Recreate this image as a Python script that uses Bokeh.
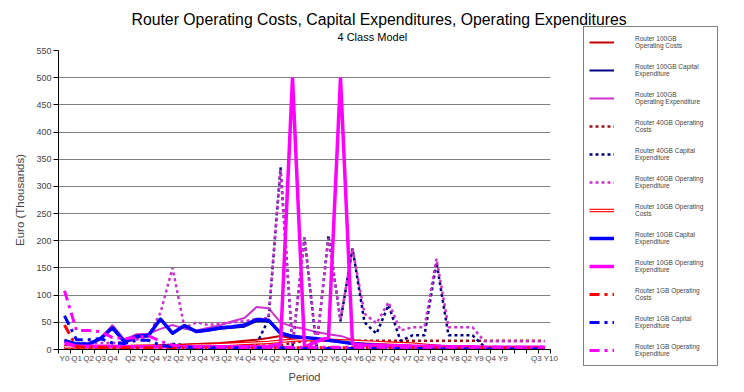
from bokeh.plotting import figure
from bokeh.models import Range1d, FixedTicker, Legend, LegendItem, Title
from bokeh.embed import file_html
from bokeh.resources import INLINE

# ---------------- data ----------------
periods = ["Y0", "Q1", "Q2", "Q3", "Q4", "", "Q2 Y2", "", "Q4 Y2", "", "Q2 Y3", "",
           "Q4 Y3", "", "Q2 Y4", "", "Q4 Y4", "", "Q2 Y5", "", "Q4 Y5", "", "Q2 Y6", "",
           "Q4 Y6", "", "Q2 Y7", "", "Q4 Y7", "", "Q2 Y8", "", "Q4 Y8", "", "Q2 Y9", "",
           "Q4 Y9", "", "", "", "Q3 Y10"]

y_ticks = [0, 50, 100, 150, 200, 250, 300, 350, 400, 450, 500, 550]

opcost_100 = [3, 4, 4, 5, 5, 6, 6, 7, 8, 8, 9, 10, 11, 12, 14, 16, 18, 21, 25, 20, 21,
              20, 18, 16, 14, 12, 11, 10, 9, 8, 7, 6, 5, 4, 3, 2, 1, 1, 0, 0, 0]
capex_100 = [18, 8, 8, 20, 42, 12, 22, 24, 58, 28, 45, 32, 35, 38, 40, 42, 52, 52, 32, 25, 22,
             20, 17, 14, 11, 9, 8, 7, 6, 5, 4, 3, 2, 2, 1, 1, 0, 0, 0, 0, 0]
opex_100 = [15, 8, 8, 20, 45, 18, 28, 29, 38, 45, 38, 35, 40, 45, 52, 58, 78, 76, 50, 42, 38,
            32, 28, 25, 18, 14, 12, 11, 10, 9, 8, 7, 6, 5, 5, 4, 4, 3, 3, 3, 3]
opcost_40 = [2, 2, 2, 3, 3, 3, 3, 4, 4, 4, 5, 5, 5, 6, 6, 6, 7, 7, 8, 12, 16,
             17, 17, 16, 16, 16, 16, 16, 16, 16, 16, 16, 16, 16, 16, 16, 16, 16, 16, 16, 16]
capex_40 = [6, 5, 5, 5, 5, 5, 5, 5, 6, 10, 8, 8, 8, 8, 8, 9, 10, 55, 335, 5, 206,
            3, 210, 52, 186, 50, 29, 82, 16, 26, 26, 160, 26, 26, 26, 5, 0, 0, 0, 0, 0]
opex_40 = [15, 12, 12, 12, 12, 14, 18, 25, 68, 150, 40, 50, 45, 48, 50, 52, 56, 58, 330, 10, 205,
           8, 205, 55, 186, 66, 48, 87, 35, 41, 41, 167, 41, 41, 41, 15, 15, 15, 15, 15, 15]
opcost_10 = [5, 5, 5, 5, 5, 5, 6, 6, 6, 7, 7, 8, 8, 9, 10, 11, 12, 13, 15, 17, 18,
             18, 17, 16, 15, 14, 13, 12, 11, 10, 8, 6, 4, 3, 2, 1, 1, 0, 0, 0, 0]
capex_10 = [16, 10, 10, 20, 40, 14, 24, 26, 56, 30, 44, 33, 36, 40, 42, 45, 55, 54, 30, 24, 22,
            20, 17, 14, 11, 9, 8, 7, 6, 5, 4, 3, 2, 2, 1, 1, 0, 0, 0, 0, 0]
opex_10 = [12, 6, 6, 6, 6, 5, 5, 5, 5, 5, 5, 5, 5, 5, 5, 5, 5, 5, 10, 500, 4,
           15, 22, 500, 10, 8, 8, 7, 7, 6, 6, 6, 5, 5, 5, 4, 4, 4, 4, 4, 4]
opcost_1 = [45, 5, 4, 4, 4, 3, 3, 3, 3, 3, 3, 3, 3, 3, 3, 3, 3, 3, 3, 3, 3,
            3, 3, 3, 3, 3, 3, 3, 3, 3, 3, 3, 3, 3, 3, 3, 3, 3, 3, 3, 3]
capex_1 = [62, 18, 18, 20, 12, 11, 17, 17, 8, 5, 4, 4, 3, 3, 3, 3, 3, 3, 3, 2, 2,
           2, 2, 2, 2, 2, 2, 2, 2, 2, 2, 1, 1, 1, 1, 1, 1, 1, 1, 1, 1]
opex_1 = [108, 35, 35, 33, 22, 20, 22, 25, 15, 8, 6, 5, 5, 4, 4, 4, 4, 4, 4, 4, 4,
          4, 4, 4, 4, 4, 4, 4, 4, 4, 4, 4, 4, 4, 4, 4, 4, 4, 4, 4, 4]

series_names = [
    "Router 100GB\nOperating Costs", "Router 100GB Capital\nExpenditure",
    "Router 100GB\nOperating Expenditure", "Router 40GB Operating\nCosts",
    "Router 40GB Capital\nExpenditure", "Router 40GB Operating\nExpenditure",
    "Router 10GB Operating\nCosts", "Router 10GB Capital\nExpenditure",
    "Router 10GB Operating\nExpenditure", "Router 1GB Operating\nCosts",
    "Router 1GB Capital\nExpenditure", "Router 1GB Operating\nExpenditure",
]

title_text = "Router Operating Costs, Capital Expenditures, Operating Expenditures"
subtitle_text = "4 Class Model"

x = list(range(len(periods)))
FONT = "Liberation Sans"

p = figure(frame_width=492, frame_height=299,
           min_border_left=58, min_border_right=170, min_border_top=50, min_border_bottom=40,
           x_range=Range1d(-0.5, len(periods) - 0.5), y_range=Range1d(0, 550),
           output_backend="svg", toolbar_location=None)
p.outline_line_color = None
p.background_fill_color = "white"
p.border_fill_color = "white"

# titles (subtitle first: it sits closest to the frame)
p.add_layout(Title(text=subtitle_text, align="left", offset=279, standoff=12,
                   vertical_align="top", text_font=FONT, text_font_size="11px",
                   text_font_style="normal", text_color="black"), "above")
p.add_layout(Title(text=title_text, align="left", offset=73, standoff=-6,
                   vertical_align="bottom", text_font=FONT, text_font_size="15.8px",
                   text_font_style="normal", text_color="black"), "above")

# axes
p.yaxis.ticker = FixedTicker(ticks=y_ticks)
p.yaxis.major_tick_in = 0
p.yaxis.major_tick_out = 5
p.yaxis.minor_tick_line_color = None
p.yaxis.major_label_text_font = FONT
p.yaxis.major_label_text_font_size = "9px"
p.yaxis.major_label_standoff = 2
p.yaxis.axis_label = "Euro (Thousands)"
p.yaxis.axis_label_text_font = FONT
p.yaxis.axis_label_text_font_size = "11.5px"
p.yaxis.axis_label_text_font_style = "normal"
p.yaxis.axis_label_standoff = 7
p.yaxis.axis_line_color = "black"

p.xaxis.ticker = FixedTicker(ticks=x, minor_ticks=[i - 0.5 for i in range(len(periods) + 1)])
p.xaxis.major_label_overrides = {i: lab for i, lab in enumerate(periods)}
p.xaxis.major_tick_in = 0
p.xaxis.major_tick_out = 0
p.xaxis.minor_tick_in = 0
p.xaxis.minor_tick_out = 4
p.xaxis.minor_tick_line_color = "black"
p.xaxis.major_label_text_font = FONT
p.xaxis.major_label_text_font_size = "8px"
p.xaxis.major_label_standoff = 0
p.xaxis.axis_label = "Period"
p.xaxis.axis_label_text_font = FONT
p.xaxis.axis_label_text_font_size = "11px"
p.xaxis.axis_label_text_font_style = "normal"
p.xaxis.axis_label_standoff = 5
p.xaxis.axis_line_color = "black"

p.xgrid.visible = False
p.ygrid.ticker = FixedTicker(ticks=y_ticks)
p.ygrid.grid_line_color = "#808080"
p.ygrid.grid_line_width = 1

# series
r1 = p.line(x, opcost_100, line_color="#C00000", line_width=2)
r2 = p.line(x, capex_100, line_color="#000080", line_width=2)
r3 = p.line(x, opex_100, line_color="#CC33CC", line_width=2)
r4 = p.line(x, opcost_40, line_color="#A01010", line_width=2.5, line_dash="3 3")
r5 = p.line(x, capex_40, line_color="#000080", line_width=2.5, line_dash="3 3")
r6 = p.line(x, opex_40, line_color="#CC33CC", line_width=2.5, line_dash="3 3")
r7a = p.line(x, opcost_10, line_color="#FF0000", line_width=3.5)
r7b = p.line(x, opcost_10, line_color="white", line_width=1.2)
r8 = p.line(x, capex_10, line_color="#0000FF", line_width=3.5)
r9 = p.line(x, opex_10, line_color="#FF00FF", line_width=3.5)
r10 = p.line(x, opcost_1, line_color="#FF0000", line_width=3, line_dash="10 5 3 5")
r11 = p.line(x, capex_1, line_color="#0000FF", line_width=3, line_dash="10 5 3 5")
r12 = p.line(x, opex_1, line_color="#FF00FF", line_width=3, line_dash="10 5 3 5")

rends = [[r1], [r2], [r3], [r4], [r5], [r6], [r7a, r7b], [r8], [r9], [r10], [r11], [r12]]
items = [LegendItem(label=name, renderers=rs) for name, rs in zip(series_names, rends)]

legend = Legend(items=items, location=(33, -17),
                glyph_width=25, glyph_height=20, label_height=20, label_width=77,
                spacing=8, padding=5, label_standoff=21, margin=0,
                label_text_font=FONT, label_text_font_size="6.5px",
                border_line_color="black", border_line_width=1,
                background_fill_color="white", background_fill_alpha=1)
p.add_layout(legend, "right")

open("out.html", "w").write(file_html(p, INLINE))
